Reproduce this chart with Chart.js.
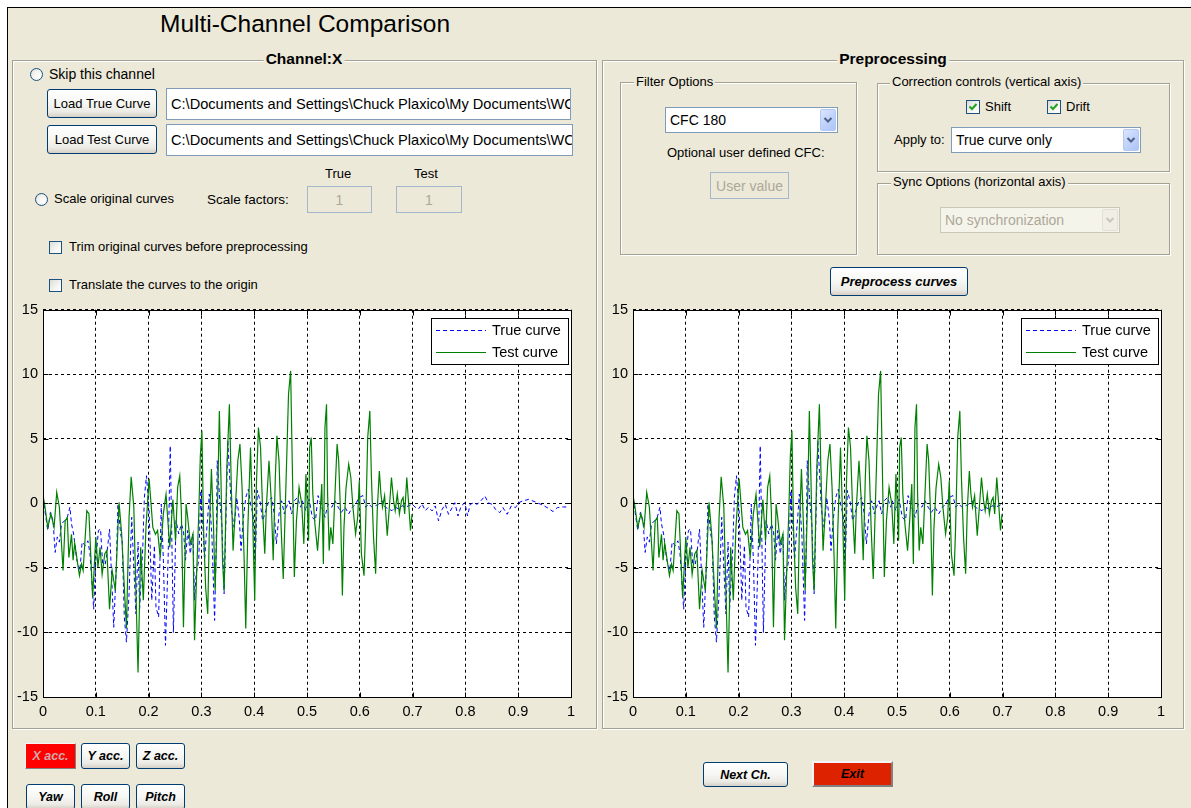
<!DOCTYPE html>
<html>
<head>
<meta charset="utf-8">
<script src="https://cdn.jsdelivr.net/npm/chart.js@4.4.1/dist/chart.umd.min.js"></script>
<style>
  html,body{margin:0;padding:0;background:#fff;width:1191px;height:808px;overflow:hidden;}
  body{font-family:"Liberation Sans",Arial,sans-serif;color:#000;}
  #frame{position:absolute;left:7px;top:7px;width:1184px;height:801px;background:#ECE9D8;border-left:1px solid #000;border-top:1px solid #000;box-sizing:border-box;}
  .abs{position:absolute;}
  .lbl{position:absolute;white-space:nowrap;font-size:13px;line-height:14px;}
  .panel{position:absolute;box-sizing:border-box;border:1px solid #A2A192;box-shadow:1px 1px 0 #fff, inset 1px 1px 0 #fff;}
  .grp{position:absolute;box-sizing:border-box;border:1px solid #A2A192;box-shadow:1px 1px 0 #fff, inset 1px 1px 0 #fff;}
  .ptitle{position:absolute;background:#ECE9D8;font-weight:bold;font-size:15.5px;line-height:16px;padding:0 2px;white-space:nowrap;transform:translateX(-50%);}
  .gtitle{position:absolute;background:#ECE9D8;font-size:13px;line-height:14px;padding:0 2px;white-space:nowrap;}
  .btn{position:absolute;box-sizing:border-box;border:1px solid #003C74;border-radius:3px;
       background:linear-gradient(#FFFFFF 0%,#F6F6F3 50%,#ECEBE6 80%,#D6D0C5 100%);
       font-size:13px;display:flex;align-items:center;justify-content:center;white-space:nowrap;}
  .bi{font-weight:bold;font-style:italic;font-size:12.5px;}
  .edit{position:absolute;box-sizing:border-box;border:1px solid #7F9DB9;background:#fff;font-size:14.6px;
        padding-left:4px;white-space:nowrap;overflow:hidden;display:flex;align-items:center;}
  .dis{position:absolute;box-sizing:border-box;border:1px solid #A5B7CB;background:#ECE9D8;color:#ACA899;
       font-size:14px;display:flex;align-items:center;justify-content:center;white-space:nowrap;}
  .radio{position:absolute;width:13px;height:13px;box-sizing:border-box;border:1px solid #1C5180;border-radius:50%;
         background:radial-gradient(circle at 65% 65%,#fff 0%,#F3F3EF 50%,#D8D8D2 100%);}
  .chk{position:absolute;width:13px;height:13px;box-sizing:border-box;border:1px solid #1C5180;
       background:linear-gradient(135deg,#DCDCD7 0%,#F5F5F2 60%,#fff 100%);}
  .combo{position:absolute;box-sizing:border-box;border:1px solid #7F9DB9;background:#fff;font-size:14px;
         padding-left:4px;display:flex;align-items:center;white-space:nowrap;}
  .arrow{position:absolute;right:1px;top:1px;bottom:1px;width:16px;box-sizing:border-box;border:1px solid #B3C8F5;border-radius:2px;
         background:linear-gradient(135deg,#DCE6FC 0%,#C1D3FB 50%,#AEC4F5 100%);display:flex;align-items:center;justify-content:center;}
  .combo.off{background:#F5F4EA;color:#ACA899;border-color:#C9C7BA;}
  .combo.off .arrow{background:#F0EFE6;border-color:#E3E1D6;}
  canvas{position:absolute;}
</style>
</head>
<body>
<div id="frame"></div>

<!-- Title -->
<div class="abs" style="left:8px;top:9px;width:594px;text-align:center;font-size:24.5px;line-height:30px;">Multi-Channel Comparison</div>

<!-- Left panel -->
<div class="panel" style="left:12px;top:60px;width:585px;height:669px;"></div>
<div class="ptitle" style="left:304px;top:51px;">Channel:X</div>

<div class="radio" style="left:30px;top:68px;"></div>
<div class="lbl" style="left:49px;top:66px;font-size:14px;line-height:16px;">Skip this channel</div>

<div class="btn" style="left:47px;top:89px;width:110px;height:29px;">Load True Curve</div>
<div class="edit" style="left:166px;top:88px;width:405px;height:32px;">C:\Documents and Settings\Chuck Plaxico\My Documents\WC</div>
<div class="btn" style="left:47px;top:125px;width:110px;height:29px;">Load Test Curve</div>
<div class="edit" style="left:166px;top:124px;width:407px;height:32px;">C:\Documents and Settings\Chuck Plaxico\My Documents\WC</div>

<div class="lbl" style="left:325px;top:167px;">True</div>
<div class="lbl" style="left:414px;top:167px;">Test</div>
<div class="radio" style="left:35px;top:193px;"></div>
<div class="lbl" style="left:54px;top:192px;">Scale original curves</div>
<div class="lbl" style="left:207px;top:193px;font-size:13.5px;">Scale factors:</div>
<div class="dis" style="left:307px;top:186px;width:65px;height:27px;">1</div>
<div class="dis" style="left:396px;top:186px;width:66px;height:27px;">1</div>

<div class="chk" style="left:49px;top:241px;"></div>
<div class="lbl" style="left:69px;top:240px;">Trim original curves before preprocessing</div>
<div class="chk" style="left:49px;top:279px;"></div>
<div class="lbl" style="left:69px;top:278px;">Translate the curves to the origin</div>

<!-- Right panel -->
<div class="panel" style="left:602px;top:60px;width:582px;height:669px;"></div>
<div class="ptitle" style="left:893px;top:51px;">Preprocessing</div>

<div class="grp" style="left:620px;top:82px;width:237px;height:173px;"></div>
<div class="gtitle" style="left:634px;top:75px;">Filter Options</div>
<div class="combo" style="left:665px;top:107px;width:173px;height:26px;">CFC 180
  <div class="arrow"><svg width="10" height="8" viewBox="0 0 10 8"><path d="M1.5 2 L5 5.5 L8.5 2" stroke="#4D6185" stroke-width="2" fill="none"/></svg></div></div>
<div class="lbl" style="left:667px;top:146px;">Optional user defined CFC:</div>
<div class="dis" style="left:710px;top:172px;width:79px;height:27px;">User value</div>

<div class="grp" style="left:877px;top:83px;width:293px;height:89px;"></div>
<div class="gtitle" style="left:890px;top:75px;">Correction controls (vertical axis)</div>
<div class="chk" style="left:966px;top:100px;width:14px;height:14px;"><svg width="12" height="12" viewBox="0 0 12 12" style="position:absolute;left:0;top:0"><path d="M2.5 5.5 L5 8 L9.5 3" stroke="#21A121" stroke-width="2" fill="none"/></svg></div>
<div class="lbl" style="left:985px;top:100px;">Shift</div>
<div class="chk" style="left:1047px;top:100px;width:14px;height:14px;"><svg width="12" height="12" viewBox="0 0 12 12" style="position:absolute;left:0;top:0"><path d="M2.5 5.5 L5 8 L9.5 3" stroke="#21A121" stroke-width="2" fill="none"/></svg></div>
<div class="lbl" style="left:1066px;top:100px;">Drift</div>
<div class="lbl" style="left:894px;top:133px;">Apply to:</div>
<div class="combo" style="left:951px;top:127px;width:190px;height:26px;">True curve only
  <div class="arrow"><svg width="10" height="8" viewBox="0 0 10 8"><path d="M1.5 2 L5 5.5 L8.5 2" stroke="#4D6185" stroke-width="2" fill="none"/></svg></div></div>

<div class="grp" style="left:877px;top:183px;width:293px;height:72px;"></div>
<div class="gtitle" style="left:891px;top:175px;">Sync Options (horizontal axis)</div>
<div class="combo off" style="left:940px;top:207px;width:180px;height:26px;">No synchronization
  <div class="arrow"><svg width="10" height="8" viewBox="0 0 10 8"><path d="M1.5 2 L5 5.5 L8.5 2" stroke="#C9C7BA" stroke-width="2" fill="none"/></svg></div></div>

<div class="btn bi" style="left:830px;top:267px;width:138px;height:29px;font-size:13px;">Preprocess curves</div>

<!-- Charts -->
<canvas id="c1" width="590" height="430" style="left:0px;top:296px;"></canvas>
<canvas id="c2" width="590" height="430" style="left:590px;top:296px;"></canvas>

<!-- Bottom buttons -->
<div class="abs bi" style="left:25px;top:743px;width:51px;height:26px;box-sizing:border-box;background:#FF0000;border:1px solid;border-color:#F4F4F4 #808080 #808080 #F4F4F4;color:#D0A8A8;display:flex;align-items:center;justify-content:center;">X acc.</div>
<div class="btn bi" style="left:81px;top:743px;width:49px;height:26px;">Y acc.</div>
<div class="btn bi" style="left:136px;top:743px;width:49px;height:26px;">Z acc.</div>
<div class="btn bi" style="left:26px;top:784px;width:49px;height:26px;">Yaw</div>
<div class="btn bi" style="left:81px;top:784px;width:49px;height:26px;">Roll</div>
<div class="btn bi" style="left:136px;top:784px;width:49px;height:26px;">Pitch</div>

<div class="btn bi" style="left:703px;top:762px;width:85px;height:25px;">Next Ch.</div>
<div class="abs bi" style="left:812px;top:761px;width:81px;height:26px;box-sizing:border-box;background:#DD2200;border:2px solid;border-color:#F4F4F4 #808080 #808080 #F4F4F4;color:#000;display:flex;align-items:center;justify-content:center;">Exit</div>

<script>
// ---------- data ----------
const xTicks = [0,0.1,0.2,0.3,0.4,0.5,0.6,0.7,0.8,0.9,1];
const xTickLabels = ['0','0.1','0.2','0.3','0.4','0.5','0.6','0.7','0.8','0.9','1'];
const yTicks = [-15,-10,-5,0,5,10,15];
const yTickLabels = ['-15','-10','-5','0','5','10','15'];

const trueT = [0,0.009,0.014,0.019,0.023,0.027,0.031,0.035,0.041,0.046,0.051,0.054,0.058,0.064,0.070,0.074,0.080,0.085,0.089,0.096,
0.100,0.105,0.109,0.113,0.118,0.121,0.126,0.130,0.134,0.139,0.142,0.147,0.150,0.154,0.158,0.163,0.168,0.172,0.176,0.180,
0.183,0.189,0.192,0.196,0.201,0.206,0.211,0.214,0.219,0.224,0.228,0.232,0.237,0.241,
0.247,0.252,0.257,0.262,0.266,0.270,0.274,0.279,0.284,0.287,0.290,0.295,0.299,0.303,0.306,0.309,0.312,0.315,0.320,0.325,
0.328,0.330,0.334,0.339,0.343,0.347,0.350,0.353,0.357,0.362,0.367,0.372,0.375,0.379,0.384,0.389,0.394,0.398,0.402,0.406,
0.411,0.416,0.422,0.428,0.433,0.438,0.442,0.447,0.452,0.457,0.461,0.466,0.471,0.476,0.482,0.488,
0.491,0.498,0.504,0.510,0.516,0.521,0.528,0.534,0.540,0.547,0.553,0.559,0.565,0.572,0.579,0.586,0.592,0.599,0.606,0.611,
0.617,0.623,0.630,0.636,0.642,0.648,0.655,0.661,0.667,0.674,0.680,0.686,0.693,0.699,0.705,0.711,0.718,0.724,0.730,
0.737,0.743,0.749,0.756,0.762,0.768,0.775,0.780,0.786,0.792,0.799,0.804,0.809,0.816,0.822,0.829,0.837,0.843,0.851,0.857,
0.865,0.871,0.879,0.887,0.895,0.901,0.908,0.920,0.933,0.946,0.955,0.966,0.974,0.984,0.991];
const trueV = [0.46,-2.1,-0.7,-1.34,-3.8,-2.6,-3.0,-1.6,-1.34,-1.08,-0.3,-1.6,-2.37,-4.4,-5.2,-3.0,-3.27,-2.9,-3.9,-8.2,
-4.4,-2.1,-2.0,-4.7,-4.7,-3.9,-2.0,-5.7,-9.6,-4.7,-0.05,-2.37,-2.9,-8.8,-10.75,-7.0,-1.08,-4.95,-8.56,-3.0,
-8.2,-3.4,0.46,2.14,-0.57,-7.5,-3.27,-8.04,-8.8,-0.05,-4.4,-11.0,-4.2,4.46,
-10.0,-1.34,-2.37,-1.6,-2.1,-4.4,-2.1,-3.9,-2.37,-7.5,-5.46,-4.4,1.0,-1.86,-4.4,-2.6,-1.08,0.72,-2.6,-9.07,
-3.4,3.3,0.72,-1.86,-7.0,-0.3,4.85,2.5,-0.57,-1.86,0.46,-1.34,-3.66,-1.34,0.46,1.1,-0.3,-0.82,-4.4,1.0,
0.2,-1.34,-0.57,0.2,0.46,-0.82,-3.14,-0.82,0.2,-0.82,-0.3,0.2,-0.82,0.2,0.46,-0.3,
0.2,-0.57,0.33,-1.08,-1.34,0.6,-0.3,-1.08,-0.05,-0.3,0.2,-0.3,-0.7,-0.3,-0.82,-0.3,-0.05,0.46,0.6,-0.3,
-0.05,-0.3,-0.18,-0.05,0.2,-0.3,-0.44,-0.57,-0.3,-0.44,-0.18,-0.3,-0.18,-0.05,-0.3,-0.44,-0.05,-0.57,-0.3,
-0.59,-0.2,-1.36,-0.46,-0.08,-0.85,-0.33,0.05,-0.98,-0.2,0.05,-0.98,-0.08,0.05,-0.08,0.18,0.57,0.05,-0.08,-0.46,
-0.72,-0.33,-0.85,-0.2,-0.33,0.05,0.18,0.31,0.1,-0.13,-0.33,-0.64,-0.33,-0.28,-0.28];

const testT = [0,0.003,0.009,0.015,0.021,0.026,0.031,0.038,0.042,0.046,0.049,0.054,0.057,0.060,0.069,0.073,0.076,0.083,0.087,0.094,
0.100,0.104,0.108,0.112,0.117,0.121,0.126,0.131,0.137,0.144,0.149,0.158,0.163,0.167,0.172,0.174,0.180,0.185,0.190,0.195,
0.201,0.208,0.213,0.217,0.222,0.228,0.233,0.240,0.246,
0.251,0.255,0.259,0.262,0.266,0.271,0.274,0.279,0.284,0.287,0.291,0.295,0.298,0.301,0.304,0.308,0.312,0.315,0.319,0.323,
0.326,0.331,0.334,0.337,0.340,0.343,0.348,0.353,0.357,0.360,0.364,0.369,0.373,0.377,0.381,0.384,0.388,0.393,0.397,0.401,
0.404,0.408,0.412,0.416,0.420,0.423,0.428,0.432,0.436,0.440,0.443,0.447,0.451,0.455,0.460,0.465,0.469,0.472,0.476,0.480,0.485,
0.490,0.494,0.498,0.501,0.503,0.505,0.508,0.511,0.515,0.520,0.524,0.528,0.531,0.534,0.537,0.539,0.542,0.545,0.549,0.553,
0.557,0.560,0.564,0.567,0.570,0.574,0.579,0.583,0.587,0.592,0.596,0.599,0.603,0.608,0.611,0.615,0.619,0.622,0.626,0.630,
0.633,0.637,0.640,0.643,0.647,0.652,0.656,0.660,0.664,0.667,0.671,0.675,0.679,0.682,0.685,0.689,0.693,0.696,0.699];
const testV = [0.6,-0.05,-1.86,-0.82,-1.86,0.85,-0.3,-5.2,-1.34,-1.1,-4.2,-2.4,-4.4,-3.1,-5.6,-4.7,-5.2,-0.57,-0.8,-7.3,
-2.6,-4.95,-3.4,-5.5,-3.9,-3.65,-8.2,-5.2,-6.75,0.08,-2.4,-9.7,-1.1,2.06,-0.3,-3.65,-13.1,-3.4,-7.5,-1.86,
1.9,-1.86,-2.4,-2.1,-4.2,-0.8,0.7,-3.4,0.3,
-2.9,1.24,2.14,-0.57,-9.6,-0.05,-1.08,-3.14,-2.37,-10.6,-5.46,-0.82,3.69,5.62,-1.86,-6.5,-8.56,-2.1,2.65,-1.86,
-6.75,0.72,7.16,2.0,-4.4,-6.75,2.5,7.68,0.72,-3.66,-0.57,3.3,4.6,1.24,-4.4,-9.7,-1.86,4.33,-1.08,-7.5,
1.24,5.88,4.33,-0.57,-3.9,-0.3,3.3,0.46,-4.4,2.0,5.23,3.3,-1.86,-5.85,1.24,8.45,10.26,3.3,-5.7,-1.34,1.24,
-0.05,-3.14,2.27,-0.57,-2.9,4.33,5.1,0.72,-1.6,-3.66,-1.34,1.5,-4.7,5.88,7.68,0.72,-3.66,-1.86,-3.14,0.72,
4.6,3.3,-1.34,-7.14,-1.86,1.24,3.04,2.0,-0.3,-2.37,-1.08,1.75,-3.9,-5.6,-1.86,5.1,7.16,2.0,-2.63,-5.46,
-0.57,2.5,0.72,-0.3,0.6,-2.5,-0.3,2.0,0.2,-0.57,0.72,-0.82,0.2,0.46,-0.82,2.0,-0.3,-2.1,-0.82];

const seriesNames = ['True curve','Test curve'];
const seriesColors = ['#0000FF','#008000'];
const preprocessedEnd = 0.7;  // true curve is trimmed to the test curve length after preprocessing

// ---------- chart building ----------
const FONT = '"Liberation Sans", Arial, sans-serif';
Chart.defaults.font.family = FONT;
Chart.defaults.font.size = 14;
Chart.defaults.color = '#000';

const toPts = (T, V) => T.map((t, i) => ({x: t, y: V[i]}));
const dashes = [[4, 3], []];

const matlabAxes = {
  id: 'matlabAxes',
  beforeDraw(chart) {
    const {ctx, chartArea: a} = chart;
    ctx.save();
    ctx.fillStyle = '#fff';
    ctx.fillRect(a.left, a.top, a.right - a.left, a.bottom - a.top);
    ctx.restore();
  },
  afterDraw(chart) {
    const {ctx, chartArea: a, scales} = chart;
    ctx.save();
    ctx.strokeStyle = '#000';
    ctx.lineWidth = 1;
    ctx.setLineDash([]);
    const L = Math.round(a.left) + 0.5, R = Math.round(a.right) + 0.5;
    const T = Math.round(a.top) + 0.5, B = Math.round(a.bottom) + 0.5;
    ctx.strokeRect(L, T, R - L, B - T);
    ctx.beginPath();
    xTicks.forEach(v => {
      const px = Math.round(scales.x.getPixelForValue(v)) + 0.5;
      ctx.moveTo(px, B); ctx.lineTo(px, B - 5);
      ctx.moveTo(px, T); ctx.lineTo(px, T + 5);
    });
    yTicks.forEach(v => {
      const py = Math.round(scales.y.getPixelForValue(v)) + 0.5;
      ctx.moveTo(L, py); ctx.lineTo(L + 5, py);
      ctx.moveTo(R, py); ctx.lineTo(R - 5, py);
    });
    ctx.stroke();
    ctx.restore();

    // legend box (inside, top-right)
    const bw = 137, bh = 46;
    const bx = Math.round(a.right) - 3 - bw, by = Math.round(a.top) + 8;
    ctx.save();
    ctx.fillStyle = '#ffffff';
    ctx.fillRect(bx, by, bw, bh);
    ctx.fillStyle = '#000000';
    ctx.fillRect(bx, by, bw, 1);
    ctx.fillRect(bx, by + bh, bw + 1, 1);
    ctx.fillRect(bx, by, 1, bh);
    ctx.fillRect(bx + bw, by, 1, bh);
    seriesNames.forEach((name, i) => {
      const y = by + 12 + i * 22;
      ctx.fillStyle = seriesColors[i];
      const d = dashes[i];
      if (d.length) {
        for (let x = bx + 5; x < bx + 55; x += d[0] + d[1]) {
          ctx.fillRect(x, y, Math.min(d[0], bx + 55 - x), 1);
        }
      } else {
        ctx.fillRect(bx + 5, y, 50, 1);
      }
      ctx.fillStyle = '#000000';
      ctx.font = '14.5px ' + FONT;
      ctx.textBaseline = 'middle';
      ctx.textAlign = 'left';
      ctx.fillText(name, bx + 61, y + 0.5);
    });
    ctx.restore();
  }
};

function makeChart(id, trueData, testData) {
  return new Chart(document.getElementById(id), {
    type: 'line',
    data: {
      datasets: [
        {label: seriesNames[0], data: trueData, borderColor: seriesColors[0], borderWidth: 1,
         borderDash: dashes[0], pointRadius: 0, tension: 0, order: 1, fill: false},
        {label: seriesNames[1], data: testData, borderColor: seriesColors[1], borderWidth: 1.2,
         pointRadius: 0, tension: 0, order: 0, fill: false}
      ]
    },
    options: {
      responsive: false,
      animation: false,
      devicePixelRatio: 1,
      layout: {padding: {left: 0, right: 19, top: 0, bottom: 0}},
      plugins: {legend: {display: false}, tooltip: {enabled: false}},
      scales: {
        x: {
          type: 'linear', min: 0, max: 1,
          afterBuildTicks: s => { s.ticks = xTicks.map(v => ({value: v})); },
          afterFit: s => { s.height = 29; },
          ticks: {callback: (v, i) => xTickLabels[i], padding: 6, maxRotation: 0, autoSkip: false,
                  color: '#000', font: {size: 14.5}},
          grid: {color: '#000', lineWidth: 1, drawTicks: false},
          border: {display: false, dash: [3, 3]}
        },
        y: {
          type: 'linear', min: -15, max: 15,
          afterBuildTicks: s => { s.ticks = yTicks.map(v => ({value: v})); },
          afterFit: s => { s.width = 43; },
          ticks: {callback: (v, i) => yTickLabels[i], padding: 5, autoSkip: false,
                  color: '#000', font: {size: 14.5}},
          grid: {color: '#000', lineWidth: 1, drawTicks: false},
          border: {display: false, dash: [3, 3]}
        }
      }
    },
    plugins: [matlabAxes]
  });
}

const trueAll = toPts(trueT, trueV);
const testAll = toPts(testT, testV);
makeChart('c1', trueAll, testAll);
makeChart('c2', trueAll.filter(p => p.x <= preprocessedEnd), testAll);
</script>
</body>
</html>
